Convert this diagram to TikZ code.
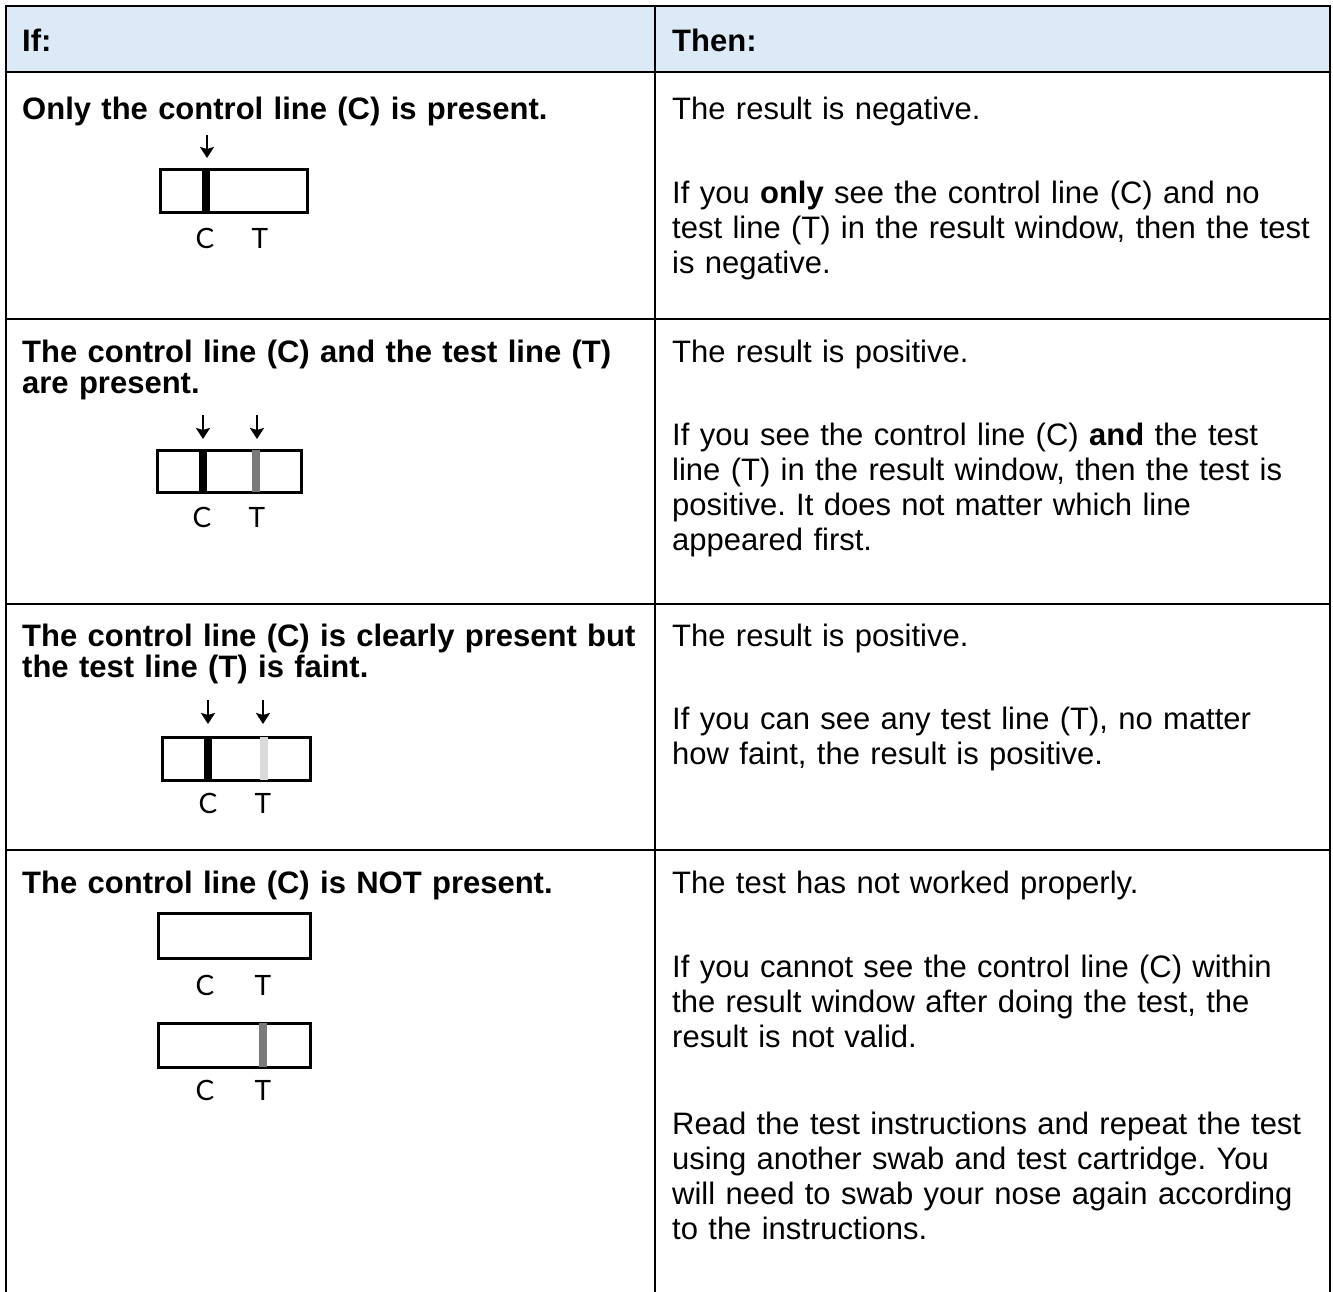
\documentclass[tikz,border=0pt]{standalone}
\usepackage{fontspec}
\setmainfont{Liberation Sans}
\newfontfamily\stripfont{Lato}
\usetikzlibrary{arrows.meta}
\frenchspacing

\definecolor{headblue}{HTML}{DBEAF6}
\definecolor{tgray}{HTML}{7A7A7A}
\definecolor{tfaint}{HTML}{DADADA}

\tikzset{
  rule/.style={line width=2.5pt},
  iftext/.style={anchor=base west, inner sep=0pt, align=left, text width=640pt,
    font=\bfseries\fontsize{31}{31}\selectfont},
  thentext/.style={anchor=base west, inner sep=0pt, align=left, text width=660pt,
    font=\fontsize{31}{35}\selectfont},
  stripbox/.style={draw, line width=3pt},
  ptr/.style={line width=2.5pt, -{Stealth[length=11pt,width=14pt,inset=2pt]}},
  ctlabel/.style={inner sep=0pt, font=\stripfont\fontsize{28}{28}\selectfont}
}

\begin{document}
\begin{tikzpicture}[x=1pt,y=-1pt]
  \useasboundingbox (0,0) rectangle (1333,1292);

  % Header band
  \fill[headblue] (6,6) rectangle (1330,72);

  % Table rules (open at the bottom)
  \draw[rule] (6,1292) -- (6,6) -- (1330,6) -- (1330,1292);
  \draw[rule] (655,6) -- (655,1292);
  \foreach \y in {72,319,604,850}
    \draw[rule] (6,\y) -- (1330,\y);

  % Header
  \node[iftext] (ifhead) at (22,52) {If:};
  \node[thentext, font=\bfseries\fontsize{31}{35}\selectfont] (thenhead) at (672,52) {Then:};

  % Row 1: negative
  \node[iftext] (if1) at (22,120) {Only the control line (C) is present.};
  \node[thentext] (then1a) at (672,120) {The result is negative.};
  \node[thentext] (then1b) at (672,204) {If you \textbf{only} see the control line (C) and no\\
    test line (T) in the result window, then the test\\is negative.};
  \draw[ptr] (207,135) -- (207,158);
  \draw[stripbox] (160,170) rectangle (307,213);
  \fill (202,170) rectangle (210,213);
  \node[ctlabel] (c1) at (205,238) {C};
  \node[ctlabel] (t1) at (260,238) {T};

  % Row 2: positive
  \node[iftext] (if2) at (22,362) {The control line (C) and the test line (T)\\are present.};
  \node[thentext] (then2a) at (672,362) {The result is positive.};
  \node[thentext] (then2b) at (672,445) {If you see the control line (C) \textbf{and} the test\\
    line (T) in the result window, then the test is\\positive. It does not matter which line\\appeared first.};
  \draw[ptr] (203,415) -- (203,439);
  \draw[ptr] (257,415) -- (257,439);
  \draw[stripbox] (157,450) rectangle (301,492);
  \fill (199,450) rectangle (207,492);
  \fill[tgray] (252,450) rectangle (260,492);
  \node[ctlabel] (c2) at (202,517) {C};
  \node[ctlabel] (t2) at (257,517) {T};

  % Row 3: faint test line
  \node[iftext] (if3) at (22,646) {The control line (C) is clearly present but\\the test line (T) is faint.};
  \node[thentext] (then3a) at (672,646) {The result is positive.};
  \node[thentext] (then3b) at (672,729) {If you can see any test line (T), no matter\\how faint, the result is positive.};
  \draw[ptr] (208,700) -- (208,724);
  \draw[ptr] (263,700) -- (263,724);
  \draw[stripbox] (162,737) rectangle (310,780);
  \fill (204,737) rectangle (212,780);
  \fill[tfaint] (260,737) rectangle (268,780);
  \node[ctlabel] (c3) at (208,803) {C};
  \node[ctlabel] (t3) at (263,803) {T};

  % Row 4: invalid
  \node[iftext] (if4) at (22,893) {The control line (C) is NOT present.};
  \node[thentext] (then4a) at (672,893) {The test has not worked properly.};
  \node[thentext] (then4b) at (672,977) {If you cannot see the control line (C) within\\
    the result window after doing the test, the\\result is not valid.};
  \node[thentext] (then4c) at (672,1134) {Read the test instructions and repeat the test\\
    using another swab and test cartridge. You\\will need to swab your nose again according\\to the instructions.};
  \draw[stripbox] (158,913) rectangle (310,958);
  \node[ctlabel] (c4) at (205,985) {C};
  \node[ctlabel] (t4) at (263,985) {T};
  \draw[stripbox] (158,1023) rectangle (310,1067);
  \fill[tgray] (259,1023) rectangle (267,1067);
  \node[ctlabel] (c5) at (205,1090) {C};
  \node[ctlabel] (t5) at (263,1090) {T};
\end{tikzpicture}
\end{document}
